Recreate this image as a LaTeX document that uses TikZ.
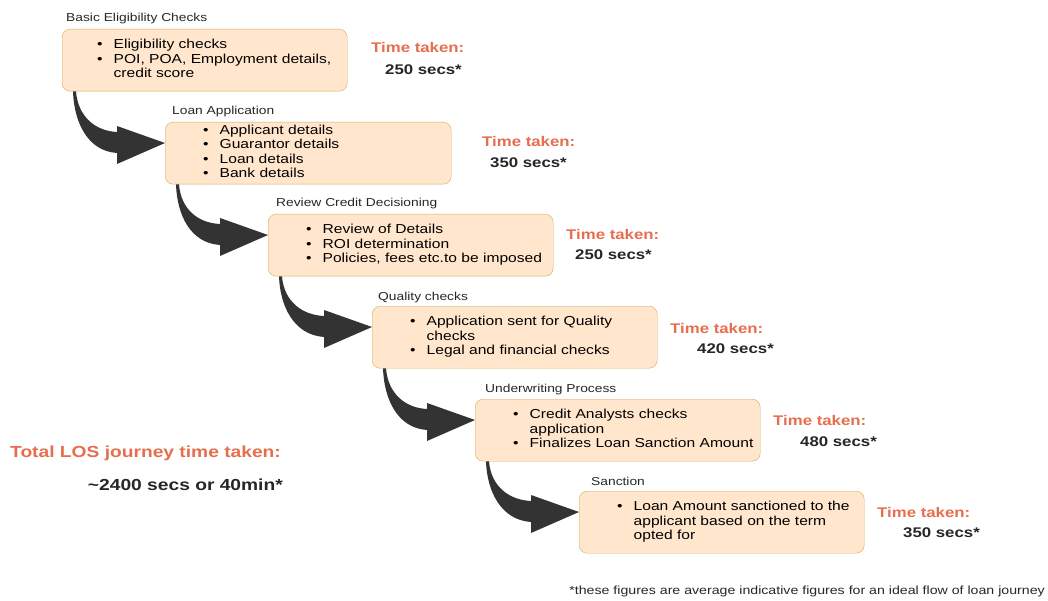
\documentclass[tikz,border=0pt]{standalone}
\usepackage{fontspec}
\setmainfont[FakeStretch=1.2]{Liberation Sans}
\usetikzlibrary{calc}

\definecolor{boxfill}{RGB}{255,230,204}
\definecolor{boxline}{RGB}{214,170,96}
\definecolor{timeorange}{RGB}{230,110,78}
\definecolor{arrowgray}{RGB}{51,51,51}

\tikzset{
	box/.style={draw=boxline, fill=boxfill, rounded corners=8pt, anchor=north west,
		minimum height=62pt, inner sep=0pt, font=\fontsize{13}{14.5}\selectfont},
	lbl/.style={anchor=base west, inner sep=0pt, font=\fontsize{11.5}{13}\selectfont, text=black!85},
	timelbl/.style={anchor=base west, inner sep=0pt, font=\fontsize{14}{16}\selectfont\bfseries, text=timeorange},
	secslbl/.style={anchor=base west, inner sep=0pt, font=\fontsize{14}{16}\selectfont\bfseries, text=black!85},
	flowfill/.style={fill=arrowgray}
}

% gebogener Blockpfeil von Kasten #1 zu Kasten #2
\newcommand{\flowarrow}[2]{%
	\fill[flowfill] ([shift={(11,0)}]#1.south west) -- ([shift={(14,0)}]#1.south west)
		.. controls +(2,25) and +(-22,-1) .. ([shift={(-48,10)}]#2.north west)
		-- ([shift={(-48,4)}]#2.north west) -- ([shift={(0,21)}]#2.north west)
		-- ([shift={(-48,42)}]#2.north west) -- ([shift={(-48,31)}]#2.north west)
		.. controls +(-30,-2) and +(1,30) .. ([shift={(11,0)}]#1.south west) -- cycle;}

\newcommand{\bitem}{\textbullet}

\begin{document}
\begin{tikzpicture}[x=1pt, y=-1pt]
	\useasboundingbox (0,0) rectangle (1048,601);

	% Kaesten
	\node[box] (b1) at (62,29) {\makebox[285pt][l]{\begin{tabular}{@{\hspace{35pt}}c@{\hspace{11pt}}l@{}}
		\bitem & Eligibility checks\\
		\bitem & POI, POA, Employment details,\\
		& credit score
	\end{tabular}}};
	\node[box] (b2) at (165,122) {\makebox[286pt][l]{\begin{tabular}{@{\hspace{38pt}}c@{\hspace{11pt}}l@{}}
		\bitem & Applicant details\\
		\bitem & Guarantor details\\
		\bitem & Loan details\\
		\bitem & Bank details
	\end{tabular}}};
	\node[box] (b3) at (268,214) {\makebox[285pt][l]{\begin{tabular}{@{\hspace{38pt}}c@{\hspace{11pt}}l@{}}
		\bitem & Review of Details\\
		\bitem & ROI determination\\
		\bitem & Policies, fees etc.to be imposed
	\end{tabular}}};
	\node[box] (b4) at (372,306) {\makebox[285pt][l]{\begin{tabular}{@{\hspace{38pt}}c@{\hspace{11pt}}l@{}}
		\bitem & Application sent for Quality\\
		& checks\\
		\bitem & Legal and financial checks
	\end{tabular}}};
	\node[box] (b5) at (475,399) {\makebox[285pt][l]{\begin{tabular}{@{\hspace{38pt}}c@{\hspace{11pt}}l@{}}
		\bitem & Credit Analysts checks\\
		& application\\
		\bitem & Finalizes Loan Sanction Amount
	\end{tabular}}};
	\node[box] (b6) at (579,491) {\makebox[285pt][l]{\begin{tabular}{@{\hspace{38pt}}c@{\hspace{11pt}}l@{}}
		\bitem & Loan Amount sanctioned to the\\
		& applicant based on the term\\
		& opted for
	\end{tabular}}};

	% Ueberschriften
	\node[lbl] (l1) at (66,22) {Basic Eligibility Checks};
	\node[lbl] (l2) at (172,115) {Loan Application};
	\node[lbl] (l3) at (276,207) {Review Credit Decisioning};
	\node[lbl] (l4) at (378,300) {Quality checks};
	\node[lbl] (l5) at (485,392) {Underwriting Process};
	\node[lbl] (l6) at (591,485) {Sanction};

	% Pfeile
	\flowarrow{b1}{b2}
	\flowarrow{b2}{b3}
	\flowarrow{b3}{b4}
	\flowarrow{b4}{b5}
	\flowarrow{b5}{b6}

	% Zeiten
	\node[timelbl] (t1) at (371,53) {Time taken:};
	\node[secslbl] (s1) at (385,75) {250 secs*};
	\node[timelbl] (t2) at (482,147) {Time taken:};
	\node[secslbl] (s2) at (490,168) {350 secs*};
	\node[timelbl] (t3) at (566,240) {Time taken:};
	\node[secslbl] (s3) at (575,260) {250 secs*};
	\node[timelbl] (t4) at (670,333) {Time taken:};
	\node[secslbl] (s4) at (697,353) {420 secs*};
	\node[timelbl] (t5) at (773,425) {Time taken:};
	\node[secslbl] (s5) at (800,446) {480 secs*};
	\node[timelbl] (t6) at (877,517) {Time taken:};
	\node[secslbl] (s6) at (903,537) {350 secs*};

	% Gesamtzeit
	\node[timelbl, font=\fontsize{16}{18}\selectfont\bfseries] (total) at (10,457) {Total LOS journey time taken:};
	\node[secslbl, anchor=base east, font=\fontsize{16}{18}\selectfont\bfseries] (totalsecs) at (283,490) {\textasciitilde2400 secs or 40min*};

	% Fussnote
	\node[lbl, anchor=base east, font=\fontsize{11.8}{13}\selectfont] (note) at (1045,594) {*these figures are average indicative figures for an ideal flow of loan journey};
\end{tikzpicture}
\end{document}
